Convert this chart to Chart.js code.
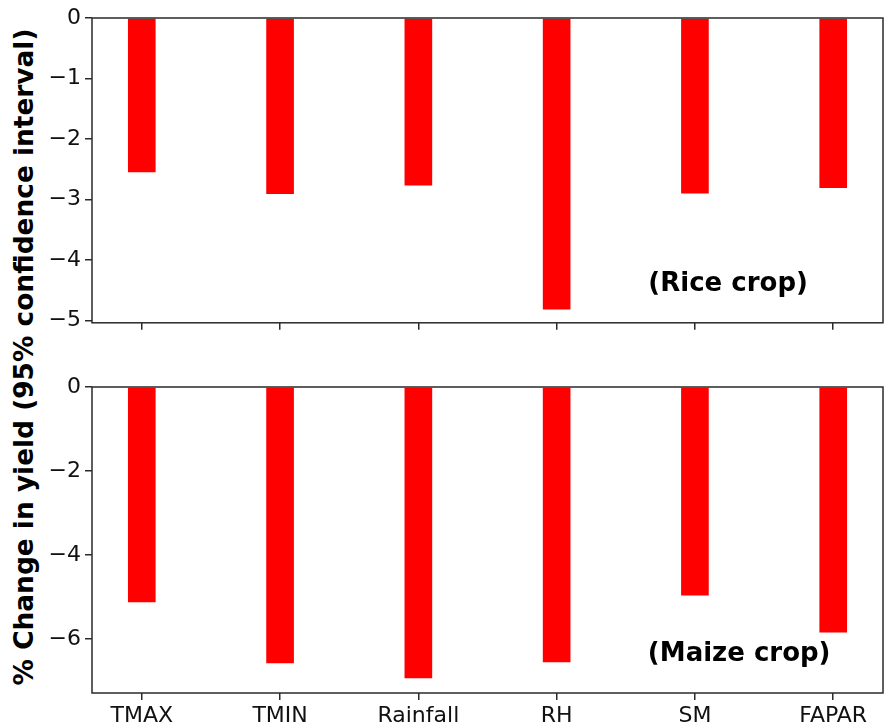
<!DOCTYPE html>
<html><head><meta charset="utf-8">
<script src="https://cdn.jsdelivr.net/npm/chart.js@4.4.1/dist/chart.umd.min.js"></script>
<style>
html,body{margin:0;padding:0;background:#fff;width:884px;height:727px;overflow:hidden;position:relative;}
#c1{position:absolute;left:0;top:0;}
#c2{position:absolute;left:0;top:340px;}
#ytitle{position:absolute;font-family:"DejaVu Sans";font-weight:bold;font-size:26.4px;line-height:26px;white-space:nowrap;text-align:center;width:720px;height:26px;left:-336px;top:344px;transform:rotate(-90deg);color:#000;}
</style></head><body>
<div id="ytitle">% Change in yield (95% confidence interval)</div>
<canvas id="c1" width="884" height="340"></canvas>
<canvas id="c2" width="884" height="387"></canvas>
<script>
// ---- data ----
const categories = ['TMAX', 'TMIN', 'Rainfall', 'RH', 'SM', 'FAPAR'];
const riceChange = [-2.55, -2.91, -2.77, -4.82, -2.90, -2.81];
const maizeChange = [-5.12, -6.57, -6.93, -6.55, -4.96, -5.84];
const riceTicks = [0, -1, -2, -3, -4, -5];
const maizeTicks = [0, -2, -4, -6];
const panelLabels = ['(Rice crop)', '(Maize crop)'];

const FONT = '"DejaVu Sans", sans-serif';
const AXIS_COLOR = '#2a2a2a';

function fmt(v) { return v < 0 ? '\u2212' + Math.abs(v) : String(v); }

const framePlugin = {
  id: 'frame',
  afterDatasetsDraw(chart) {
    const a = chart.chartArea, ctx = chart.ctx;
    ctx.save();
    ctx.strokeStyle = AXIS_COLOR;
    ctx.lineWidth = 1.5;
    ctx.strokeRect(a.left, a.top, a.right - a.left, a.bottom - a.top);
    ctx.restore();
  }
};

const labelPlugin = {
  id: 'panelLabel',
  afterDraw(chart, args, opts) {
    const ctx = chart.ctx;
    ctx.save();
    ctx.font = 'bold 26px ' + FONT;
    ctx.fillStyle = '#000';
    ctx.textAlign = 'center';
    ctx.textBaseline = 'middle';
    ctx.fillText(opts.text, chart.scales.x.getPixelForValue(opts.x), chart.scales.y.getPixelForValue(opts.y));
    ctx.restore();
  }
};

function makeChart(id, values, yMin, yTicks, showX, label, lx, ly, padTop, xHeight) {
  return new Chart(document.getElementById(id), {
    type: 'bar',
    data: {
      datasets: [{
        data: values.map((v, i) => ({ x: i, y: v })),
        backgroundColor: '#ff0000',
        borderWidth: 0,
        barPercentage: 0.2,
        categoryPercentage: 1.0
      }]
    },
    options: {
      responsive: false,
      animation: false,
      devicePixelRatio: 1,
      layout: { padding: { top: padTop, right: 1, left: 0, bottom: 0 } },
      plugins: {
        legend: { display: false },
        tooltip: { enabled: false },
        panelLabel: { text: label, x: lx, y: ly }
      },
      scales: {
        x: {
          type: 'linear',
          offset: false,
          min: -0.36, max: 5.36,
          afterBuildTicks: s => { s.ticks = categories.map((c, i) => ({ value: i })); },
          afterFit: s => { s.height = xHeight; },
          grid: { offset: false, drawOnChartArea: false, drawTicks: true, tickLength: 7, color: AXIS_COLOR, lineWidth: 1.5 },
          border: { display: false },
          ticks: {
            display: showX,
            padding: 3,
            autoSkip: false,
            maxRotation: 0,
            color: '#111',
            font: { family: FONT, size: 22 },
            callback: v => categories[v]
          }
        },
        y: {
          min: yMin, max: 0,
          afterBuildTicks: s => { s.ticks = yTicks.map(v => ({ value: v })); },
          afterFit: s => { s.width = 92; },
          grid: { drawOnChartArea: false, drawTicks: true, tickLength: 7, color: AXIS_COLOR, lineWidth: 1.5 },
          border: { display: false },
          ticks: {
            padding: 4,
            color: '#111',
            font: { family: FONT, size: 22 },
            callback: v => fmt(v)
          }
        }
      }
    },
    plugins: [framePlugin, labelPlugin]
  });
}

makeChart('c1', riceChange, -5.04, riceTicks, false, panelLabels[0], 4.24, -4.41, 18, 16);
makeChart('c2', maizeChange, -7.28, maizeTicks, true, panelLabels[1], 4.32, -6.36, 47, 34);
</script>
</body></html>
